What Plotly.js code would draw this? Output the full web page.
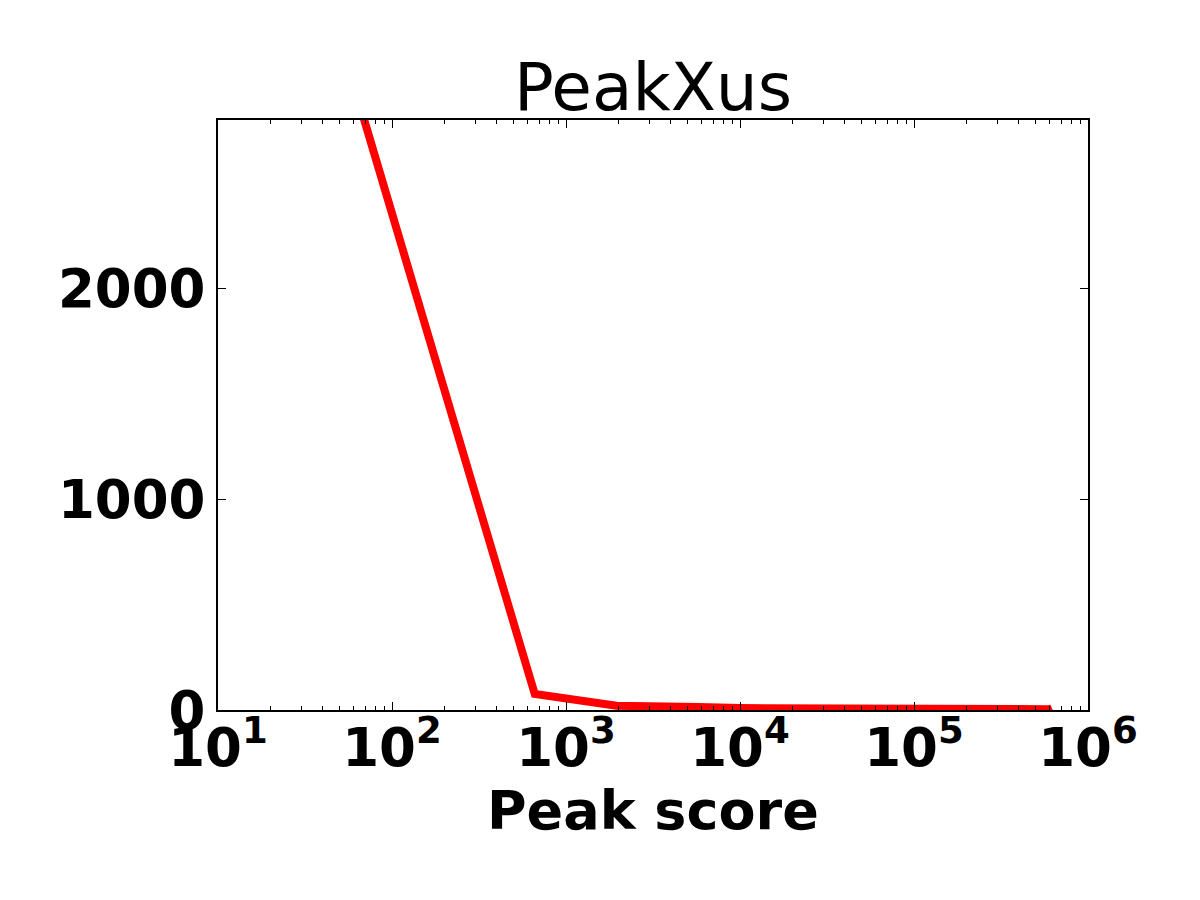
<!DOCTYPE html>
<html>
<head>
<meta charset="utf-8">
<script src="https://cdn.plot.ly/plotly-3.0.1.min.js"></script>
<style>
  html, body { margin: 0; padding: 0; background: #fff; }
  #chart { width: 1200px; height: 900px; }
</style>
</head>
<body>
<div id="chart"></div>
<script>
// peak score histogram
let peak_score = [20, 661, 1950, 3250, 4300, 5800, 10000, 20000, 50000, 100000, 200000, 400000, 600000, 620000]
let peak_count = [4300, 76, 20, 18, 22, 14, 9, 7, 6, 5, 5, 4, 4, 9]

let x_tickvals = [10, 100, 1000, 10000, 100000, 1000000]
let x_ticktext = ['10<sup>1</sup>', '10<sup>2</sup>', '10<sup>3</sup>', '10<sup>4</sup>', '10<sup>5</sup>', '10<sup>6</sup>']
let y_tickvals = [0, 1000, 2000]

let graph_data = [
  {
    x: peak_score,
    y: peak_count,
    type: 'scatter',
    mode: 'lines',
    line: {color: '#ff0000', width: 8},
    cliponaxis: true,
  }
]

var layout = {
  width: 1200,
  height: 900,
  paper_bgcolor: '#ffffff',
  plot_bgcolor: '#ffffff',
  showlegend: false,
  font: {family: 'DejaVu Sans', color: '#000000'},
  margin: {l: 218, r: 112, t: 120, b: 190},
  title: {
    text: 'PeakXus',
    font: {size: 66, family: 'DejaVu Sans', color: '#000000'},
    x: 0.5,
    xref: 'paper',
    y: 1 - 87 / 900,
    yref: 'container',
    yanchor: 'middle',
  },
  xaxis: {
    type: 'log',
    range: [1, 6],
    tickvals: x_tickvals,
    ticktext: x_ticktext,
    ticks: 'inside',
    ticklen: 8,
    tickwidth: 1,
    tickcolor: '#000000',
    mirror: 'allticks',
    showline: true,
    linecolor: '#000000',
    linewidth: 2,
    showgrid: false,
    zeroline: false,
    ticklabelstandoff: -10,
    tickfont: {size: 53, family: 'DejaVu Sans', weight: 'bold'},
    minor: {ticks: 'inside', ticklen: 4, dtick: 'D1', tickcolor: '#000000', showgrid: false},
    automargin: false,
  },
  yaxis: {
    range: [0, 2800],
    tickvals: y_tickvals,
    ticks: 'inside',
    ticklen: 8,
    tickwidth: 1,
    tickcolor: '#000000',
    mirror: 'allticks',
    showline: true,
    linecolor: '#000000',
    linewidth: 2,
    showgrid: false,
    zeroline: false,
    tickfont: {size: 53, family: 'DejaVu Sans', weight: 'bold'},
    automargin: false,
  },
  // x axis title as an annotation so it sits where the reference puts it
  annotations: [
    {
      text: 'Peak score',
      xref: 'paper',
      yref: 'paper',
      x: 0.5,
      y: -100 / 590,
      xanchor: 'center',
      yanchor: 'middle',
      showarrow: false,
      font: {size: 54, family: 'DejaVu Sans', weight: 'bold', color: '#000000'},
    }
  ],
};

Plotly.newPlot('chart', graph_data, layout, {displayModeBar: false, staticPlot: true})
</script>
</body>
</html>
